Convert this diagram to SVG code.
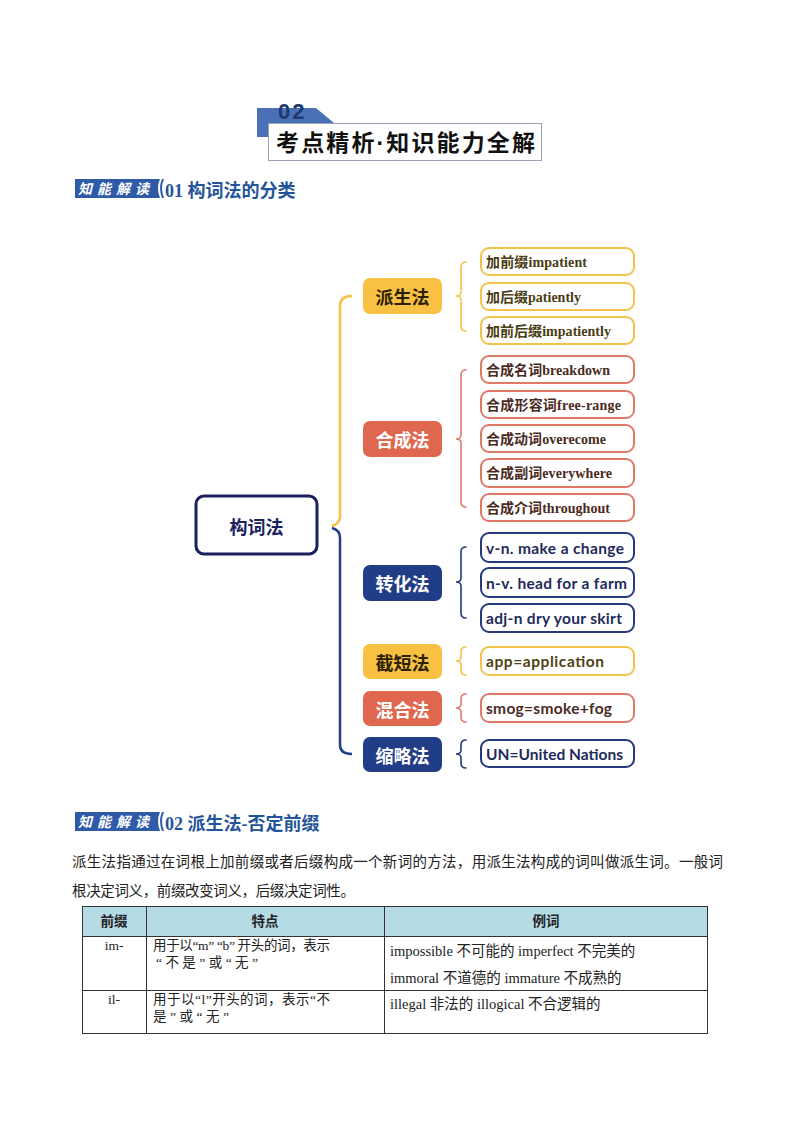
<svg xmlns="http://www.w3.org/2000/svg" width="800" height="1132" viewBox="0 0 800 1132">
<style>
.cjk{font-family:"Liberation Sans","Noto Sans CJK SC",sans-serif}
.ser{font-family:"Liberation Serif","Noto Sans CJK SC",serif}
.l1{font-family:"Noto Sans CJK SC",sans-serif;font-weight:bold;font-size:18px;text-anchor:middle;dominant-baseline:central}
.lf{font-family:"Liberation Serif","Noto Sans CJK SC",serif;font-weight:bold;font-size:14px;dominant-baseline:central}
.ls{font-family:"Lato","Noto Sans CJK SC",sans-serif;font-weight:bold;font-size:15.5px;dominant-baseline:central}
.y{fill:#f8c144}.c{fill:#e0674f}.n{fill:#213d87}
.by{fill:#fff;stroke:#f3c24a;stroke-width:2}
.bc{fill:#fff;stroke:#df7a66;stroke-width:2}
.bn{fill:#fff;stroke:#26397d;stroke-width:2}
.br{fill:none;stroke-width:1.6;stroke-linecap:round}
.sec{font-family:"Liberation Serif","Noto Sans CJK SC",serif;font-weight:bold;font-size:18px;fill:#23549a}
.tb{font-family:"Liberation Serif","Noto Sans CJK SC",serif;font-size:13.5px;fill:#222}
.tc{font-family:"Liberation Serif","Noto Sans CJK SC",serif;font-size:14.5px;fill:#222}
</style>
<rect width="800" height="1132" fill="#fff"/>

<g id="header">
<polygon points="257,108 316,108 334,123 334,137 257,137" fill="#4a70b5"/>
<rect x="268.5" y="123.5" width="273" height="37" fill="#fff" stroke="#9aa3b5" stroke-width="1"/>
<text x="278" y="119" font-family="Liberation Sans,sans-serif" font-weight="bold" font-size="22" fill="#1b3a6f" letter-spacing="2">02</text>
<text x="276" y="151" class="cjk" font-weight="bold" font-size="23" fill="#111" textLength="259" lengthAdjust="spacing">考点精析·知识能力全解</text>
</g>

<g id="section1">
<path d="M75,179 H160 Q156,188 160,198 H75 Z" fill="#2e5aa8"/>
<path d="M162,179 Q158,188 162,198 L164,198 Q160,188 164,179 Z" fill="#2e5aa8"/>
<text x="78" y="194" font-family="Noto Sans CJK SC,sans-serif" font-weight="bold" font-style="italic" font-size="14" fill="#fff" letter-spacing="5">知能解读</text>
<text x="165" y="197" class="sec">01 构词法的分类</text>
</g>

<g id="connectors">
<path d="M352,296 Q340,296 340,306 L340,516 Q340,524 332,526" fill="none" stroke="#f8c144" stroke-width="2.5"/>
<path d="M332,528 Q340,530 340,538 L340,745 Q340,754 352,754" fill="none" stroke="#213d87" stroke-width="2.5"/>
<path class="br" stroke="#f3c24a" d="M466,262 Q461,262 461,267 L461,292 Q461,296 456,296 Q461,296 461,300 L461,326 Q461,331 466,331"/>
<path class="br" stroke="#df7a66" d="M466,370 Q461,370 461,375 L461,435 Q461,439 456,439 Q461,439 461,443 L461,502 Q461,507 466,507"/>
<path class="br" stroke="#26397d" d="M466,547 Q461,547 461,552 L461,578 Q461,582 456,582 Q461,582 461,586 L461,613 Q461,618 466,618"/>
<path class="br" stroke="#f3c24a" d="M466,647 Q461,647 461,652 L461,657 Q461,661 456,661 Q461,661 461,665 L461,670 Q461,675 466,675"/>
<path class="br" stroke="#df7a66" d="M466,694 Q461,694 461,699 L461,704 Q461,708 456,708 Q461,708 461,712 L461,717 Q461,722 466,722"/>
<path class="br" stroke="#26397d" d="M466,740 Q461,740 461,745 L461,750 Q461,754 456,754 Q461,754 461,758 L461,763 Q461,768 466,768"/>
</g>

<g id="root">
<rect x="196" y="496" width="121" height="58" rx="8" fill="#fff" stroke="#1b205e" stroke-width="3"/>
<text x="256.5" y="526" class="l1" font-size="24" fill="#1b205e">构词法</text>
</g>

<g id="paisheng">
<rect x="363" y="278" width="79" height="36" rx="7" class="y"/>
<text x="402.5" y="296" class="l1" fill="#2b2000">派生法</text>
</g>
<g id="hecheng">
<rect x="363" y="421" width="79" height="36" rx="7" class="c"/>
<text x="402.5" y="439" class="l1" fill="#fff">合成法</text>
</g>
<g id="zhuanhua">
<rect x="363" y="565" width="79" height="36" rx="7" class="n"/>
<text x="402.5" y="583" class="l1" fill="#fff">转化法</text>
</g>
<g id="jieduan">
<rect x="363" y="644" width="79" height="35" rx="7" class="y"/>
<text x="402.5" y="661.5" class="l1" fill="#2b2000">截短法</text>
</g>
<g id="hunhe">
<rect x="363" y="691" width="79" height="35" rx="7" class="c"/>
<text x="402.5" y="708.5" class="l1" fill="#fff">混合法</text>
</g>
<g id="suolue">
<rect x="363" y="737" width="79" height="35" rx="7" class="n"/>
<text x="402.5" y="754.5" class="l1" fill="#fff">缩略法</text>
</g>

<g id="leaf1"><rect x="481" y="248" width="153" height="27" rx="8" class="by"/><text x="486" y="262" class="lf" fill="#4a3c12" textLength="101">加前缀impatient</text></g>
<g id="leaf2"><rect x="481" y="283" width="153" height="27" rx="8" class="by"/><text x="486" y="297" class="lf" fill="#4a3c12" textLength="95">加后缀patiently</text></g>
<g id="leaf3"><rect x="481" y="317" width="153" height="27" rx="8" class="by"/><text x="486" y="331" class="lf" fill="#4a3c12" textLength="125">加前后缀impatiently</text></g>

<g id="leaf4"><rect x="481" y="356" width="153" height="27" rx="8" class="bc"/><text x="486" y="370" class="lf" fill="#4a2a22" textLength="124">合成名词breakdown</text></g>
<g id="leaf5"><rect x="481" y="391" width="153" height="27" rx="8" class="bc"/><text x="486" y="405" class="lf" fill="#4a2a22" textLength="135">合成形容词free-range</text></g>
<g id="leaf6"><rect x="481" y="425" width="153" height="27" rx="8" class="bc"/><text x="486" y="439" class="lf" fill="#4a2a22" textLength="120">合成动词overecome</text></g>
<g id="leaf7"><rect x="481" y="459" width="153" height="28" rx="8" class="bc"/><text x="486" y="473" class="lf" fill="#4a2a22" textLength="126">合成副词everywhere</text></g>
<g id="leaf8"><rect x="481" y="494" width="153" height="27" rx="8" class="bc"/><text x="486" y="508" class="lf" fill="#4a2a22" textLength="124">合成介词throughout</text></g>

<g id="leaf9"><rect x="481" y="533" width="153" height="29" rx="8" class="bn"/><text x="486" y="548" class="ls" fill="#1e2a5a" textLength="138">v-n. make a change</text></g>
<g id="leaf10"><rect x="481" y="568" width="153" height="29" rx="8" class="bn"/><text x="486" y="583" class="ls" fill="#1e2a5a" textLength="141">n-v.  head for a farm</text></g>
<g id="leaf11"><rect x="481" y="604" width="153" height="28" rx="8" class="bn"/><text x="486" y="618" class="ls" fill="#1e2a5a" textLength="136">adj-n dry your skirt</text></g>

<g id="leaf12"><rect x="481" y="647" width="153" height="28" rx="8" class="by"/><text x="486" y="661" class="ls" fill="#4f4212" textLength="118">app=application</text></g>
<g id="leaf13"><rect x="481" y="694" width="153" height="28" rx="8" class="bc"/><text x="486" y="708" class="ls" fill="#4a2a22" textLength="126">smog=smoke+fog</text></g>
<g id="leaf14"><rect x="481" y="740" width="153" height="27" rx="8" class="bn"/><text x="486" y="754" class="ls" fill="#1e2a5a" textLength="137">UN=United Nations</text></g>

<g id="section2">
<path d="M75,812 H160 Q156,821 160,831 H75 Z" fill="#2e5aa8"/>
<path d="M162,812 Q158,821 162,831 L164,831 Q160,821 164,812 Z" fill="#2e5aa8"/>
<text x="78" y="827" font-family="Noto Sans CJK SC,sans-serif" font-weight="bold" font-style="italic" font-size="14" fill="#fff" letter-spacing="5">知能解读</text>
<text x="165" y="830" class="sec">02 派生法-否定前缀</text>
<text x="72" y="867" class="ser" font-size="14.5" fill="#222" textLength="651" lengthAdjust="spacing">派生法指通过在词根上加前缀或者后缀构成一个新词的方法，用派生法构成的词叫做派生词。一般词</text>
<text x="72" y="896" class="ser" font-size="14.5" fill="#222" textLength="283" lengthAdjust="spacing">根决定词义，前缀改变词义，后缀决定词性。</text>
</g>

<g id="table">
<rect x="82" y="906" width="626" height="30" fill="#b5dbe6"/>
<g stroke="#333" stroke-width="1" fill="none">
<rect x="82.5" y="906.5" width="625" height="127"/>
<line x1="82" y1="936.5" x2="708" y2="936.5"/>
<line x1="82" y1="990.5" x2="708" y2="990.5"/>
<line x1="146.5" y1="906" x2="146.5" y2="1034"/>
<line x1="384.5" y1="906" x2="384.5" y2="1034"/>
</g>
<text x="114" y="926" class="tb" font-weight="bold" text-anchor="middle" fill="#111">前缀</text>
<text x="265" y="926" class="tb" font-weight="bold" text-anchor="middle" fill="#111">特点</text>
<text x="546" y="926" class="tb" font-weight="bold" text-anchor="middle" fill="#111">例词</text>
<text x="114" y="950" class="tb" text-anchor="middle">im-</text>
<text x="153" y="950" class="tb" textLength="177" lengthAdjust="spacing">用于以“m” “b” 开头的词，表示</text>
<text x="156" y="967" class="tb" textLength="102" lengthAdjust="spacing">“不是”或“无”</text>
<text x="390" y="956" class="tc">impossible  不可能的 imperfect  不完美的</text>
<text x="390" y="983" class="tc">immoral  不道德的  immature 不成熟的</text>
<text x="114" y="1004" class="tb" text-anchor="middle">il-</text>
<text x="153" y="1004" class="tb" textLength="177" lengthAdjust="spacing">用于以“l”开头的词，表示“不</text>
<text x="153" y="1021" class="tb" textLength="76" lengthAdjust="spacing">是”或“无”</text>
<text x="390" y="1009" class="tc">illegal  非法的 illogical  不合逻辑的</text>
</g>
</svg>
